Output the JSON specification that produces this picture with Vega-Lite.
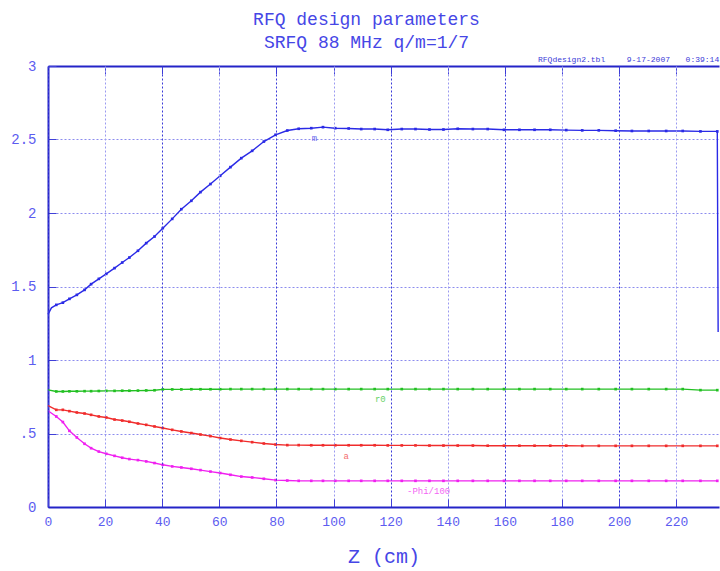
{
  "$schema": "https://vega.github.io/schema/vega-lite/v6.json",
  "width": 671,
  "height": 441,
  "autosize": {"type": "none"},
  "padding": {"left": 48, "top": 66, "right": 1, "bottom": 64},
  "background": "white",
  "title": {
    "text": ["RFQ design parameters", "SRFQ 88 MHz q/m=1/7"],
    "font": "Liberation Mono",
    "fontSize": 18,
    "fontWeight": "normal",
    "color": "#4646e6",
    "lineHeight": 23,
    "anchor": "middle",
    "dx": -17,
    "offset": 4
  },
  "config": {
    "view": {"stroke": null},
    "axis": {
      "labelFont": "Liberation Mono",
      "titleFont": "Liberation Mono",
      "labelColor": "#5c5cf0",
      "domainColor": "#2424c8",
      "domainWidth": 2,
      "domainOpacity": 1,
      "domain": true,
      "tickColor": "#4040d8",
      "tickSize": -8,
      "gridDash": [2, 2],
      "gridColor": "#8c8cee",
      "gridOpacity": 1
    }
  },
  "datasets": {
    "curves": [
      {"z": 0, "m": 1.31, "r0": 0.797, "a": 0.69, "phi": 0.655},
      {"z": 1.2, "m": 1.355, "r0": null, "a": null, "phi": null},
      {"z": 2.9, "m": 1.375, "r0": 0.786, "a": 0.661, "phi": 0.616},
      {"z": 5.2, "m": 1.39, "r0": 0.786, "a": 0.661, "phi": 0.578},
      {"z": 7.5, "m": 1.416, "r0": 0.787, "a": 0.652, "phi": 0.518},
      {"z": 10.1, "m": 1.443, "r0": 0.787, "a": 0.643, "phi": 0.473},
      {"z": 12.8, "m": 1.477, "r0": 0.788, "a": 0.636, "phi": 0.43},
      {"z": 15.1, "m": 1.516, "r0": 0.788, "a": 0.627, "phi": 0.4},
      {"z": 17.8, "m": 1.552, "r0": 0.789, "a": 0.616, "phi": 0.377},
      {"z": 20.4, "m": 1.586, "r0": 0.79, "a": 0.609, "phi": 0.362},
      {"z": 23.3, "m": 1.625, "r0": 0.79, "a": 0.595, "phi": 0.348},
      {"z": 26, "m": 1.663, "r0": 0.791, "a": 0.588, "phi": 0.335},
      {"z": 28.5, "m": 1.697, "r0": 0.791, "a": 0.58, "phi": 0.326},
      {"z": 31.5, "m": 1.743, "r0": 0.792, "a": 0.568, "phi": 0.319},
      {"z": 34.4, "m": 1.795, "r0": 0.793, "a": 0.559, "phi": 0.31},
      {"z": 37.3, "m": 1.84, "r0": 0.794, "a": 0.548, "phi": 0.299},
      {"z": 40.2, "m": 1.897, "r0": 0.8, "a": 0.537, "phi": 0.287},
      {"z": 43.5, "m": 1.96, "r0": 0.8, "a": 0.525, "phi": 0.276},
      {"z": 46.7, "m": 2.026, "r0": 0.8, "a": 0.514, "phi": 0.269},
      {"z": 50.2, "m": 2.083, "r0": 0.801, "a": 0.503, "phi": 0.26},
      {"z": 53.4, "m": 2.142, "r0": 0.801, "a": 0.493, "phi": 0.251},
      {"z": 56.9, "m": 2.197, "r0": 0.801, "a": 0.482, "phi": 0.241},
      {"z": 60.3, "m": 2.253, "r0": 0.801, "a": 0.469, "phi": 0.231},
      {"z": 63.9, "m": 2.312, "r0": 0.802, "a": 0.459, "phi": 0.219},
      {"z": 67.7, "m": 2.373, "r0": 0.802, "a": 0.45, "phi": 0.207},
      {"z": 71.5, "m": 2.423, "r0": 0.802, "a": 0.441, "phi": 0.201},
      {"z": 75.6, "m": 2.486, "r0": 0.802, "a": 0.432, "phi": 0.192},
      {"z": 79.7, "m": 2.532, "r0": 0.802, "a": 0.425, "phi": 0.183},
      {"z": 83.8, "m": 2.561, "r0": 0.802, "a": 0.421, "phi": 0.18},
      {"z": 87.8, "m": 2.573, "r0": 0.802, "a": 0.421, "phi": 0.178},
      {"z": 92.2, "m": 2.577, "r0": 0.802, "a": 0.42, "phi": 0.178},
      {"z": 96.3, "m": 2.584, "r0": 0.802, "a": 0.42, "phi": 0.178},
      {"z": 100.6, "m": 2.577, "r0": 0.802, "a": 0.42, "phi": 0.178},
      {"z": 105.3, "m": 2.575, "r0": 0.802, "a": 0.42, "phi": 0.178},
      {"z": 109.7, "m": 2.571, "r0": 0.802, "a": 0.42, "phi": 0.178},
      {"z": 114.4, "m": 2.571, "r0": 0.802, "a": 0.42, "phi": 0.178},
      {"z": 119, "m": 2.566, "r0": 0.802, "a": 0.419, "phi": 0.178},
      {"z": 123.9, "m": 2.571, "r0": 0.802, "a": 0.419, "phi": 0.178},
      {"z": 128.7, "m": 2.571, "r0": 0.802, "a": 0.419, "phi": 0.178},
      {"z": 133.6, "m": 2.568, "r0": 0.802, "a": 0.418, "phi": 0.178},
      {"z": 138.5, "m": 2.568, "r0": 0.802, "a": 0.418, "phi": 0.178},
      {"z": 143.5, "m": 2.573, "r0": 0.802, "a": 0.418, "phi": 0.178},
      {"z": 148.8, "m": 2.571, "r0": 0.802, "a": 0.418, "phi": 0.178},
      {"z": 154, "m": 2.571, "r0": 0.802, "a": 0.417, "phi": 0.178},
      {"z": 159.7, "m": 2.566, "r0": 0.802, "a": 0.417, "phi": 0.178},
      {"z": 165.1, "m": 2.566, "r0": 0.802, "a": 0.417, "phi": 0.178},
      {"z": 170.4, "m": 2.566, "r0": 0.802, "a": 0.417, "phi": 0.178},
      {"z": 175.9, "m": 2.566, "r0": 0.802, "a": 0.417, "phi": 0.178},
      {"z": 181.5, "m": 2.564, "r0": 0.802, "a": 0.417, "phi": 0.178},
      {"z": 187.1, "m": 2.562, "r0": 0.802, "a": 0.416, "phi": 0.178},
      {"z": 192.9, "m": 2.562, "r0": 0.802, "a": 0.416, "phi": 0.178},
      {"z": 198.8, "m": 2.56, "r0": 0.802, "a": 0.416, "phi": 0.178},
      {"z": 204.5, "m": 2.558, "r0": 0.802, "a": 0.416, "phi": 0.178},
      {"z": 210.4, "m": 2.558, "r0": 0.802, "a": 0.416, "phi": 0.178},
      {"z": 216.5, "m": 2.558, "r0": 0.802, "a": 0.416, "phi": 0.178},
      {"z": 222.3, "m": 2.558, "r0": 0.802, "a": 0.416, "phi": 0.178},
      {"z": 228.5, "m": 2.555, "r0": 0.795, "a": 0.416, "phi": 0.178},
      {"z": 234.4, "m": 2.555, "r0": 0.795, "a": 0.416, "phi": 0.178},
      {"z": 234.7, "m": 1.19, "r0": null, "a": null, "phi": null}
    ],
    "labels": [
      {"z": 93.3, "v": 2.51, "t": "m", "s": "m"},
      {"z": 116.4, "v": 0.734, "t": "r0", "s": "r0"},
      {"z": 104.4, "v": 0.348, "t": "a", "s": "a"},
      {"z": 133.3, "v": 0.112, "t": "-Phi/100", "s": "phi"}
    ],
    "notes": [
      {"z": 171.6, "v": 3.029, "t": "RFQdesign2.tbl"},
      {"z": 202.7, "v": 3.029, "t": "9-17-2007"},
      {"z": 223.3, "v": 3.029, "t": "0:39:14"}
    ]
  },
  "layer": [
    {
      "data": {"name": "curves"},
      "transform": [
        {"fold": ["m", "r0", "a", "phi"], "as": ["s", "v"]},
        {"filter": "datum.v != null"}
      ],
      "mark": {"type": "line", "strokeWidth": 1.4, "clip": false},
      "encoding": {
        "x": {
          "field": "z", "type": "quantitative",
          "scale": {"domain": [0, 235], "nice": false, "zero": false},
          "axis": {
            "orient": "bottom",
            "zindex": 1,
            "values": [0, 20, 40, 60, 80, 100, 120, 140, 160, 180, 200, 220],
            "title": "Z (cm)",
            "titleFontSize": 20,
            "titleFontWeight": "normal",
            "titleColor": "#4646e6",
            "titlePadding": 18,
            "labelFontSize": 13,
            "labelPadding": 16,
            "labelFlush": false,
            "gridColor": {"condition": {"test": "datum.value % 40 === 0", "value": "#3a3ad8"}, "value": "#9a9af0"}
          }
        },
        "y": {
          "field": "v", "type": "quantitative",
          "scale": {"domain": [0, 3], "nice": false},
          "axis": {
            "values": [0, 0.5, 1, 1.5, 2, 2.5, 3],
            "labelExpr": "datum.value === 0.5 ? '.5' : format(datum.value, '~g')",
            "title": null,
            "labelFontSize": 14,
            "labelPadding": 20,
            "labelFlush": false
          }
        },
        "color": {
          "field": "s", "type": "nominal",
          "scale": {"domain": ["m", "r0", "a", "phi"], "range": ["#2a2ae6", "#22c022", "#f02c2c", "#f020f0"]},
          "legend": null
        },
        "order": {"field": "z", "type": "quantitative"}
      }
    },
    {
      "mark": {"type": "rule", "color": "#2424c8", "strokeWidth": 2},
      "encoding": {"y": {"datum": 0}}
    },
    {
      "data": {"name": "curves"},
      "transform": [
        {"fold": ["m", "r0", "a", "phi"], "as": ["s", "v"]},
        {"filter": "datum.v != null && datum.z > 0.5 && datum.z < 234.5 && datum.z != 1.2"}
      ],
      "mark": {"type": "point", "shape": "square", "size": 7, "filled": true, "opacity": 1, "clip": false},
      "encoding": {
        "x": {"field": "z", "type": "quantitative", "axis": null},
        "y": {"field": "v", "type": "quantitative"},
        "color": {"field": "s", "type": "nominal", "legend": null}
      }
    },
    {
      "data": {"name": "labels"},
      "mark": {"type": "text", "font": "Liberation Mono", "fontSize": 9, "opacity": 0.7, "align": "center", "baseline": "middle"},
      "encoding": {
        "x": {"field": "z", "type": "quantitative", "axis": null},
        "y": {"field": "v", "type": "quantitative"},
        "text": {"field": "t"},
        "color": {"field": "s", "type": "nominal", "legend": null}
      }
    },
    {
      "data": {"name": "notes"},
      "mark": {"type": "text", "font": "Liberation Mono", "fontSize": 8, "align": "left", "baseline": "alphabetic", "color": "#3a3ad8", "clip": false},
      "encoding": {
        "x": {
          "field": "z", "type": "quantitative",
          "axis": {
            "orient": "top",
            "values": [20, 40, 60, 80, 100, 120, 140, 160, 180, 200, 220],
            "labels": false,
            "title": null,
            "grid": false
          }
        },
        "y": {"field": "v", "type": "quantitative"},
        "text": {"field": "t"}
      }
    }
  ],
  "resolve": {"axis": {"x": "independent"}}
}
